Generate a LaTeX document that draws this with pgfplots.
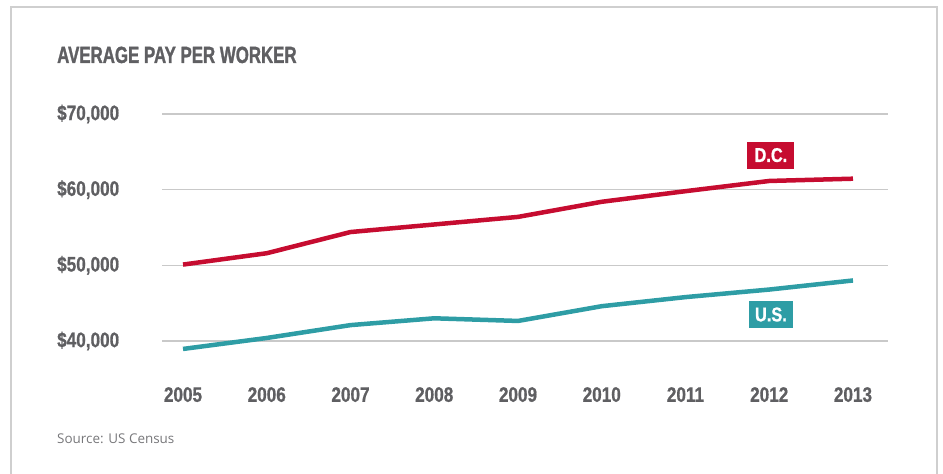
\documentclass[border=0pt]{standalone}
\usepackage{pgfplots}
\pgfplotsset{compat=1.18}
\usepackage{fontspec}
\setmainfont{Open Sans}
\newfontfamily\condtitle[FakeStretch=0.72, BoldFeatures={FakeBold=1.2}]{Liberation Sans}
\newfontfamily\condtick[FakeStretch=0.82, BoldFeatures={FakeBold=0.8}]{Liberation Sans}
\definecolor{dcred}{HTML}{C60C30}
\definecolor{usteal}{HTML}{2E9DA5}
\definecolor{txtgray}{HTML}{5F5F62}
\definecolor{gridgray}{HTML}{C9C9C9}
\definecolor{framegray}{HTML}{CFCFCF}
\begin{document}
\begin{tikzpicture}
\path[use as bounding box] (0,0) rectangle (943bp,474bp);
\draw[framegray, line width=1.5bp] (11bp,0) -- (11bp,467bp) -- (937bp,467bp) -- (937bp,0);
\node[anchor=base west, inner sep=0pt, text=txtgray, font=\condtitle\bfseries\fontsize{23.5}{25}\selectfont] at (57bp,411bp) {AVERAGE PAY PER WORKER};
\node[anchor=base west, inner sep=0pt, text=txtgray!85, font=\fontsize{13.5}{15}\selectfont] at (57bp,31bp) {Source: US Census};
\begin{axis}[
  at={(162bp,133bp)}, anchor=south west,
  scale only axis, width=726bp, height=227bp,
  xmin=2004.749, xmax=2013.418,
  ymin=40000, ymax=70000,
  clip=false,
  axis line style={draw=none},
  tick style={draw=none},
  xtick={2005,2006,...,2013},
  ytick={40000,50000,60000,70000},
  scaled ticks=false,
  ymajorgrids, grid style={gridgray, line width=1.5bp},
  xticklabel style={anchor=north, inner sep=0pt, yshift=-46bp, text=txtgray, font=\condtick\bfseries\fontsize{21}{23}\selectfont},
  yticklabel style={anchor=west, inner sep=0pt, xshift=-105bp, text=txtgray, font=\condtick\bfseries\fontsize{21}{23}\selectfont},
  xticklabel={\pgfmathprintnumber[1000 sep={}]{\tick}},
  yticklabel={\$\pgfmathprintnumber[1000 sep={,}, fixed]{\tick}},
  /pgf/number format/assume math mode=true,
]
\addplot[dcred, line width=4.5bp] coordinates {
 (2005,50100) (2006,51600) (2007,54400) (2008,55400) (2009,56400)
 (2010,58400) (2011,59800) (2012,61150) (2013,61450)};
\addplot[usteal, line width=4.5bp] coordinates {
 (2005,38950) (2006,40400) (2007,42100) (2008,43000) (2009,42650)
 (2010,44600) (2011,45800) (2012,46800) (2013,48000)};
\node[fill=dcred, text=white, minimum width=47bp, minimum height=27bp, inner sep=0pt,
  font=\condtick\bfseries\fontsize{20}{22}\selectfont] at (axis cs:2012.02,64570) {D.C.};
\node[fill=usteal, text=white, minimum width=44bp, minimum height=27bp, inner sep=0pt,
  font=\condtick\bfseries\fontsize{20}{22}\selectfont] at (axis cs:2012.02,43500) {U.S.};
\end{axis}
\end{tikzpicture}
\end{document}
